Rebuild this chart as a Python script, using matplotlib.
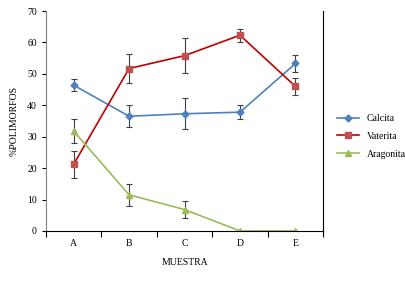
import matplotlib.pyplot as plt
import numpy as np

muestras = ["A", "B", "C", "D", "E"]
calcita = [46.4, 36.5, 37.3, 37.8, 53.3]
calcita_err = [2.0, 3.5, 5.0, 2.2, 2.8]
vaterita = [21.2, 51.7, 55.8, 62.3, 46.0]
vaterita_err = [4.3, 4.7, 5.5, 2.0, 2.6]
aragonita = [31.8, 11.5, 6.8, 0.0, 0.0]
aragonita_err = [3.7, 3.5, 2.7, 0.0, 0.0]

plt.rcParams["font.family"] = ["Liberation Serif", "DejaVu Serif"]

fig = plt.figure(figsize=(4.06, 2.83), dpi=100)
ax = fig.add_axes([0.113, 0.184, 0.683, 0.777])

x = np.arange(len(muestras))
err_kw = dict(ecolor="#404040", elinewidth=0.8, capsize=2.5, capthick=0.8)
c = ax.errorbar(x, calcita, yerr=calcita_err, color="#4F81BD", marker="D", ms=3.5,
                lw=1.2, label="Calcita", **err_kw)
v = ax.errorbar(x, vaterita, yerr=vaterita_err, color="#C00000", marker="s", ms=5,
                mfc="#C0504D", mec="#C0504D", lw=1.2, label="Vaterita", **err_kw)
a = ax.errorbar(x, aragonita, yerr=aragonita_err, color="#9BBB59", marker="^", ms=5,
                lw=1.2, label="Aragonita", **err_kw)

ax.set_xlim(-0.5, len(muestras) - 0.5)
ax.set_ylim(0, 70)
ax.set_yticks(range(0, 71, 10))
ax.set_xticks(x)
ax.set_xticklabels(muestras)
ax.set_xticks(np.arange(-0.5, len(muestras)), minor=True)
ax.tick_params(axis="x", which="major", length=0, labelsize=7, pad=6)
ax.tick_params(axis="x", which="minor", length=4, direction="out", width=0.8)
ax.tick_params(axis="y", length=3, direction="out", labelsize=7, width=0.8)
ax.spines["top"].set_visible(False)
for s in ["left", "bottom", "right"]:
    ax.spines[s].set_linewidth(0.8)
ax.spines["left"].set_color("#808080")

ax.set_xlabel("MUESTRA", fontsize=7, labelpad=7)
ax.set_ylabel("%POLIMORFOS", fontsize=7, labelpad=6)

ax.legend([c[0], v[0], a[0]], ["Calcita", "Vaterita", "Aragonita"],
          loc="center left", bbox_to_anchor=(1.02, 0.43), frameon=False,
          fontsize=7, handlelength=2.2, labelspacing=0.9)

fig.savefig("out.png", dpi=100)
